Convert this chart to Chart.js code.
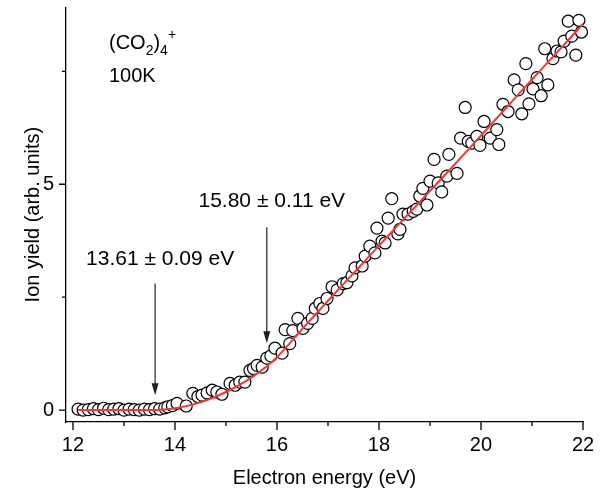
<!DOCTYPE html>
<html lang="en">
<head>
<meta charset="UTF-8">
<title>(CO2)4+ ion yield</title>
<script src="https://cdn.jsdelivr.net/npm/chart.js@4"></script>
<style>
  body { margin: 0; background: #fff; }
  #wrap { width: 603px; height: 495px; position: relative; }
</style>
</head>
<body>
<div id="wrap"><canvas id="yieldChart"></canvas></div>
<script>
// measured points (electron energy in eV, ion yield in arb. units)
const energy = [
  12.10, 12.20, 12.30, 12.40, 12.50, 12.60, 12.70, 12.80, 12.90, 13.00,
  13.10, 13.20, 13.30, 13.40, 13.50, 13.60, 13.70, 13.80, 13.86, 13.95,
  14.04, 14.22, 14.35, 14.45, 14.53, 14.63, 14.73, 14.82, 14.92, 15.08,
  15.18, 15.27, 15.37, 15.47, 15.54, 15.61, 15.71, 15.80, 15.88, 15.96,
  16.10, 16.16, 16.25, 16.31, 16.41, 16.51, 16.60, 16.69, 16.75, 16.84,
  16.90, 16.98, 17.08, 17.18, 17.30, 17.37, 17.47, 17.53, 17.67, 17.73,
  17.82, 17.92, 17.96, 18.06, 18.12, 18.18, 18.25, 18.37, 18.41, 18.47,
  18.57, 18.67, 18.74, 18.80, 18.86, 18.94, 19.00, 19.08, 19.16, 19.23,
  19.33, 19.37, 19.53, 19.60, 19.69, 19.75, 19.82, 19.92, 19.98, 20.06,
  20.18, 20.31, 20.35, 20.43, 20.53, 20.65, 20.73, 20.80, 20.88, 20.94,
  21.02, 21.10, 21.18, 21.25, 21.31, 21.41, 21.49, 21.57, 21.63, 21.71,
  21.78, 21.86, 21.92, 21.97
];
const ionYield = [
  0.02, 0.00, 0.01, 0.03, 0.01, 0.04, 0.01, 0.02, 0.03, 0.00,
  0.02, 0.01, 0.00, 0.02, 0.01, 0.03, 0.02, 0.05, 0.07, 0.10,
  0.15, 0.09, 0.37, 0.30, 0.33, 0.38, 0.44, 0.40, 0.35, 0.59,
  0.55, 0.62, 0.62, 0.88, 0.92, 0.99, 0.95, 1.15, 1.20, 1.37,
  1.26, 1.78, 1.47, 1.76, 2.03, 1.81, 1.92, 2.03, 2.25, 2.36,
  2.25, 2.47, 2.73, 2.66, 2.80, 2.82, 2.97, 3.15, 3.19, 3.41,
  3.63, 3.48, 4.03, 3.74, 3.70, 4.25, 4.68, 3.90, 4.00, 4.34,
  4.34, 4.40, 4.45, 4.74, 4.91, 4.54, 5.07, 5.55, 5.03, 4.83,
  5.18, 5.66, 5.24, 6.02, 6.70, 5.95, 5.91, 6.06, 5.86, 6.39,
  6.02, 6.21, 5.88, 6.77, 6.61, 7.31, 7.09, 6.56, 7.67, 6.78,
  7.11, 7.36, 6.96, 8.00, 7.20, 7.78, 7.95, 7.93, 8.17, 8.61,
  8.28, 7.86, 8.63, 8.37
];

// fitted threshold curve
const fitEnergy = [12.1, 13.0, 13.61, 14.0, 14.5, 15.0, 15.5, 15.8, 16.0, 16.5,
                   17.0, 17.5, 18.0, 18.5, 19.0, 19.5, 20.0, 20.5, 21.0, 21.5, 22.0];
const fitYield  = [0, 0, 0, 0.04, 0.17, 0.40, 0.72, 0.97, 1.17, 1.80,
                   2.42, 3.03, 3.64, 4.25, 4.85, 5.46, 6.08, 6.70, 7.32, 7.93, 8.55];

const xMajorTicks = [12, 14, 16, 18, 20, 22];
const xMinorTicks = [13, 15, 17, 19, 21];
const yMajorTicks = [0, 5];
const yMinorTicks = [2.5, 7.5];

const thresholds = [13.61, 15.80];
const thresholdLabels = ['13.61 \u00b1 0.09 eV', '15.80 \u00b1 0.11 eV'];

const FONT = '"Liberation Sans", Arial, Helvetica, sans-serif';

// minor/major tick marks, arrows and the text labels
const extras = {
  id: 'extras',
  afterDraw(chart) {
    const { ctx, chartArea: a, scales: { x, y } } = chart;
    ctx.save();
    ctx.strokeStyle = '#000';
    ctx.lineWidth = 1.3;
    ctx.beginPath();
    xMajorTicks.forEach(v => { const p = x.getPixelForValue(v); ctx.moveTo(p, a.bottom); ctx.lineTo(p, a.bottom + 8); });
    xMinorTicks.forEach(v => { const p = x.getPixelForValue(v); ctx.moveTo(p, a.bottom); ctx.lineTo(p, a.bottom + 4); });
    yMajorTicks.forEach(v => { const p = y.getPixelForValue(v); ctx.moveTo(a.left, p); ctx.lineTo(a.left - 7, p); });
    yMinorTicks.forEach(v => { const p = y.getPixelForValue(v); ctx.moveTo(a.left, p); ctx.lineTo(a.left - 4, p); });
    ctx.stroke();

    // arrows pointing at the two thresholds (top, tip in data units)
    const spans = [[2.80, 0.33], [4.05, 1.48]];
    const labelY = [3.35, 4.63];
    thresholds.forEach((e, i) => {
      const px = x.getPixelForValue(e);
      const top = y.getPixelForValue(spans[i][0]);
      const tip = y.getPixelForValue(spans[i][1]);
      ctx.strokeStyle = '#222';
      ctx.fillStyle = '#222';
      ctx.lineWidth = 1.2;
      ctx.beginPath();
      ctx.moveTo(px, top);
      ctx.lineTo(px, tip - 10);
      ctx.stroke();
      ctx.beginPath();
      ctx.moveTo(px - 3.5, tip - 12);
      ctx.lineTo(px + 3.5, tip - 12);
      ctx.lineTo(px, tip);
      ctx.closePath();
      ctx.fill();

      ctx.fillStyle = '#000';
      ctx.font = '21px ' + FONT;
      ctx.textAlign = 'center';
      ctx.textBaseline = 'middle';
      ctx.fillText(thresholdLabels[i], px + 5, y.getPixelForValue(labelY[i]));
    });

    // (CO2)4+ and temperature
    ctx.fillStyle = '#000';
    ctx.textAlign = 'left';
    ctx.textBaseline = 'alphabetic';
    let cx = a.left + 43;
    const base = a.top + 42;
    const parts = [['(CO', 20, 0], ['2', 14, 6], [')', 20, 0], ['4', 14, 6], ['+', 14, -10]];
    parts.forEach(([t, size, dy]) => {
      ctx.font = size + 'px ' + FONT;
      ctx.fillText(t, cx, base + dy);
      cx += ctx.measureText(t).width;
    });
    ctx.font = '20px ' + FONT;
    ctx.fillText('100K', a.left + 43, a.top + 75);
    ctx.restore();
  }
};

new Chart(document.getElementById('yieldChart'), {
  type: 'scatter',
  data: {
    datasets: [
      {
        type: 'line',
        data: fitEnergy.map((e, i) => ({ x: e, y: fitYield[i] })),
        borderColor: 'rgb(238, 58, 58)',
        borderWidth: 2,
        pointRadius: 0,
        cubicInterpolationMode: 'monotone',
        fill: false,
        order: 0
      },
      {
        data: energy.map((e, i) => ({ x: e, y: ionYield[i] })),
        pointRadius: 6,
        pointBorderWidth: 1.2,
        pointBorderColor: '#000',
        pointBackgroundColor: '#fff',
        clip: false,
        order: 1
      }
    ]
  },
  options: {
    responsive: true,
    maintainAspectRatio: false,
    animation: false,
    layout: { padding: { top: 5, right: 20, left: 0, bottom: 0 } },
    plugins: { legend: { display: false }, tooltip: { enabled: false } },
    scales: {
      x: {
        type: 'linear',
        min: 11.863,
        max: 22,
        afterBuildTicks: s => { s.ticks = xMajorTicks.map(v => ({ value: v })); },
        afterFit: s => { s.height = 73; s.paddingLeft = 0; s.paddingRight = 0; },
        grid: { display: false, drawTicks: false },
        border: { display: true, color: '#000', width: 1.3 },
        ticks: { color: '#000', padding: 11, font: { family: FONT, size: 20 }, maxRotation: 0 },
        title: { display: true, text: 'Electron energy (eV)', color: '#000',
                 font: { family: FONT, size: 20 }, padding: { top: 0, bottom: 5 } }
      },
      y: {
        type: 'linear',
        min: -0.264,
        max: 8.92,
        afterBuildTicks: s => { s.ticks = yMajorTicks.map(v => ({ value: v })); },
        afterFit: s => { s.width = 66; s.paddingTop = 0; s.paddingBottom = 0; },
        grid: { display: false, drawTicks: false },
        border: { display: true, color: '#000', width: 1.3 },
        ticks: { color: '#000', padding: 12, font: { family: FONT, size: 20 } },
        title: { display: true, text: 'Ion yield (arb. units)', color: '#000',
                 font: { family: FONT, size: 20 }, padding: { top: 21, bottom: 0 } }
      }
    }
  },
  plugins: [extras]
});
</script>
</body>
</html>
